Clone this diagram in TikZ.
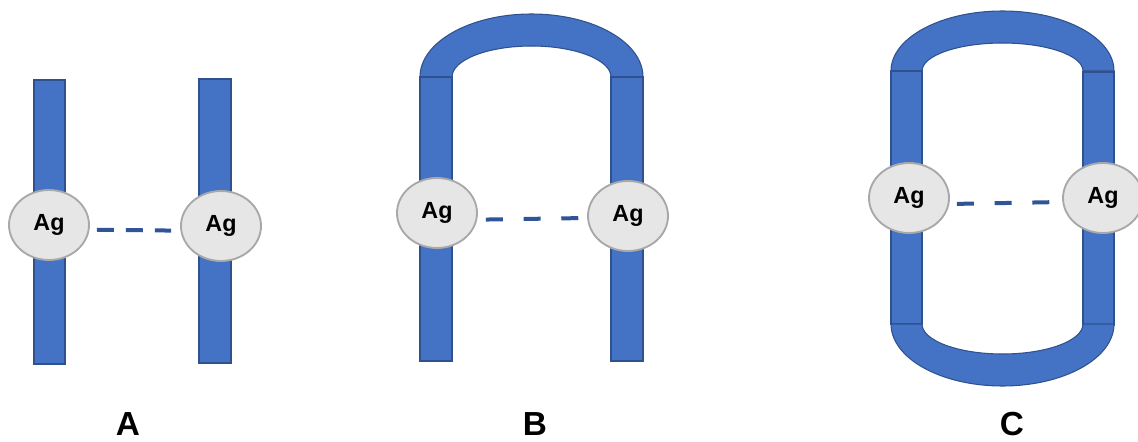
\documentclass[tikz,border=0pt]{standalone}
\usepackage{fontspec}
\setmainfont{Liberation Sans}
\usetikzlibrary{shapes.geometric}
\definecolor{barblue}{HTML}{4472C4}
\definecolor{bardark}{HTML}{2F528F}
\definecolor{agfill}{HTML}{E6E6E6}
\definecolor{agline}{HTML}{A8A8A8}
\definecolor{dashblue}{HTML}{2F5597}
\tikzset{
  barshape/.style={fill=barblue, draw=bardark, line width=0.8pt},
  agnode/.style={ellipse, fill=agfill, draw=agline, line width=1.4pt, minimum width=60pt, minimum height=52.5pt, inner sep=0pt, font=\bfseries\fontsize{17.5}{17.5}\selectfont},
  bond/.style={draw=dashblue, line width=3pt},
  bondA/.style={bond, dash pattern=on 12.75pt off 9pt},
  bondBC/.style={bond, dash pattern=on 12.75pt off 15.5pt},
  caption/.style={anchor=base, inner sep=0pt, font=\bfseries\fontsize{25}{25}\selectfont}
}
\begin{document}
\begin{tikzpicture}[x=0.75pt,y=-0.75pt]
\useasboundingbox (0,0) rectangle (1138,442);
% ---------- A ----------
\path[barshape] (34,80) rectangle (65,364);
\path[barshape] (199,79) rectangle (231,363);
\node[agnode] (a1) at (49,225) {Ag};
\node[agnode] (a2) at (221,226) {Ag};
\draw[bondA, shorten <=5.25pt, shorten >=6.75pt] ([yshift=-3.5pt]a1.east) -- ([yshift=-3.5pt]a2.west);
\node[caption] (la) at (128,435) {A};
% ---------- B ----------
\path[barshape] (420,77) arc[start angle=180, end angle=0, x radius=83.625pt, y radius=47.25pt]
  -- (611,77) arc[start angle=0, end angle=180, x radius=59.625pt, y radius=23.25pt] -- cycle;
\path[barshape] (420,77) rectangle (452,361);
\path[barshape] (611,77) rectangle (643,361);
\node[agnode] (b1) at (437,213) {Ag};
\node[agnode] (b2) at (628,216) {Ag};
\draw[bondBC, shorten <=6pt, shorten >=5.25pt] ([yshift=-5pt]b1.east) -- ([yshift=-1.5pt]b2.west);
\node[caption] (lb) at (535,435) {B};
% ---------- C ----------
\path[barshape] (891,71) arc[start angle=180, end angle=0, x radius=83.625pt, y radius=45pt]
  -- (1083,71) arc[start angle=0, end angle=180, x radius=60.375pt, y radius=21pt] -- cycle;
\path[barshape] (891,71) rectangle (922,324);
\path[barshape] (1083,72) rectangle (1114,325);
\path[barshape] (891,324) arc[start angle=180, end angle=360, x radius=83.625pt, y radius=46.5pt]
  -- (1083,324) arc[start angle=360, end angle=180, x radius=60.375pt, y radius=22.5pt] -- cycle;
\node[agnode] (c1) at (909,198) {Ag};
\node[agnode] (c2) at (1103,198) {Ag};
\draw[bondBC, shorten <=5.25pt, shorten >=7.5pt] ([yshift=-4.5pt]c1.east) -- ([yshift=-3pt]c2.west);
\node[caption] (lc) at (1012,435) {C};
\end{tikzpicture}
\end{document}
